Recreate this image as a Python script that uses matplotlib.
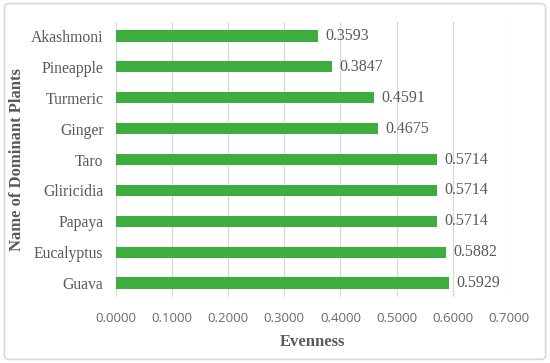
import matplotlib
matplotlib.use("Agg")
import matplotlib.pyplot as plt
from matplotlib.patches import FancyBboxPatch

plants = ["Guava", "Eucalyptus", "Papaya", "Gliricidia", "Taro",
          "Ginger", "Turmeric", "Pineapple", "Akashmoni"]
evenness = [0.5929, 0.5882, 0.5714, 0.5714, 0.5714,
            0.4675, 0.4591, 0.3847, 0.3593]
xticks = [0.0, 0.1, 0.2, 0.3, 0.4, 0.5, 0.6, 0.7]

GREEN = "#3dae3d"
GRAY = "#595959"
SERIF = ["Liberation Serif", "DejaVu Serif"]

fig = plt.figure(figsize=(5.5, 3.63), dpi=100)
ax = fig.add_axes([0.211, 0.182, 0.714, 0.757])

ypos = list(range(len(plants)))
ax.barh(ypos, evenness, height=0.36, color=GREEN, zorder=3)
for y, v in zip(ypos, evenness):
    ax.text(v + 0.013, y, f"{v:.4f}", va="center", ha="left",
            fontsize=11.5, color=GRAY, family=SERIF)

ax.set_xlim(0, 0.7)
ax.set_ylim(-0.45, len(plants) - 0.55)
ax.set_xticks(xticks)
ax.set_xticklabels([f"{t:.4f}" for t in xticks], color="#6a6a6a", fontsize=9.5,
                   family=["Open Sans", "DejaVu Sans"])
ax.set_yticks(ypos)
ax.set_yticklabels(plants, color=GRAY, fontsize=11.3, family=SERIF)
ax.tick_params(length=0, pad=9)
ax.tick_params(axis="x", pad=11)
ax.grid(axis="x", color="#d9d9d9", lw=0.9, zorder=0)
for s in ax.spines.values():
    s.set_visible(False)

ax.set_xlabel("Evenness", fontsize=12, fontweight="bold", color=GRAY,
              family=SERIF, labelpad=6)
ax.set_ylabel("Name of Dominant Plants", fontsize=12, fontweight="bold",
              color=GRAY, family=SERIF, labelpad=4)

border = FancyBboxPatch((0.008, 0.01), 0.984, 0.98,
                        boxstyle="round,pad=0,rounding_size=0.01",
                        transform=fig.transFigure, fill=False,
                        edgecolor="#d9d9d9", lw=1.2)
fig.patches.append(border)

fig.savefig("out.png", dpi=100)
